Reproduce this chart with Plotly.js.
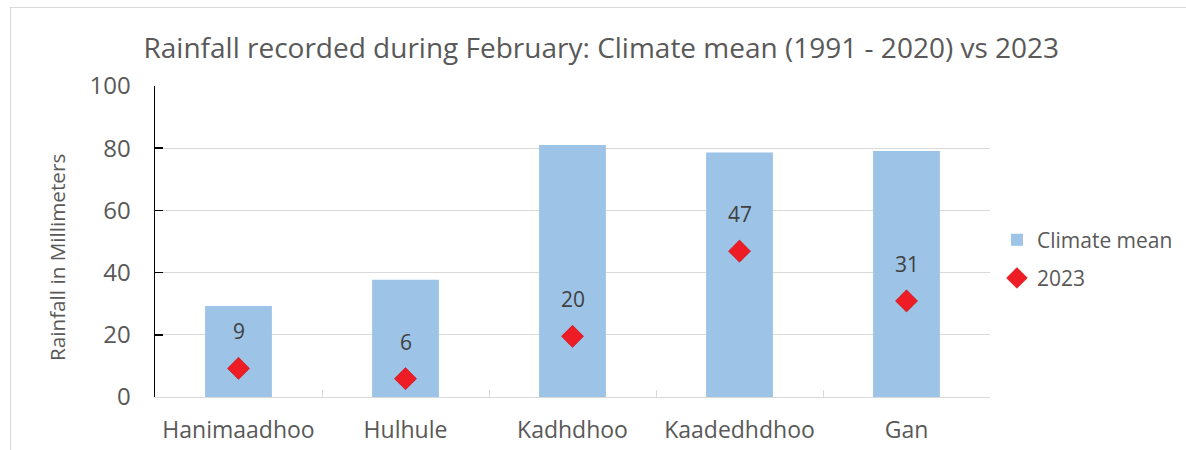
<!DOCTYPE html>
<html>
<head>
<meta charset="utf-8">
<script src="https://cdn.plot.ly/plotly-3.0.1.min.js"></script>
<style>
html,body{margin:0;padding:0;background:#fff;}
#wrap{position:relative;width:1186px;height:450px;}
#chart{width:1186px;height:450px;}
#frame{position:absolute;left:10px;top:7px;width:1176px;height:443px;border-left:1px solid #d9d9d9;border-top:1px solid #d9d9d9;pointer-events:none;}
</style>
</head>
<body>
<div id="wrap"><div id="chart"></div><div id="frame"></div></div>
<script>
const stations = ["Hanimaadhoo", "Hulhule", "Kadhdhoo", "Kaadedhdhoo", "Gan"];
const climateMean = [29.3, 37.7, 81.0, 78.6, 79.1];
const rain2023 = [9.2, 5.9, 19.5, 46.9, 30.9];
const rain2023Labels = ["9", "6", "20", "47", "31"];
const yTitle = "Rainfall in Millimeters";

const font = "'Open Sans', sans-serif";
const grey = "#595959";

const traces = [
  {
    type: "bar", name: "Climate mean", x: stations, y: climateMean, legendgroup: "a",
    marker: {color: "#9dc3e6"}, width: 0.4, hoverinfo: "x+y"
  },
  {
    type: "scatter", mode: "markers", name: "2023", x: stations, y: rain2023, legendgroup: "b",
    marker: {symbol: "diamond", color: "#ee1c25", size: 17, line: {color: "#c00000", width: 0.5}}
  }
];

const annotations = stations.map((s, i) => ({
  x: s, y: rain2023[i], text: rain2023Labels[i], showarrow: false,
  yshift: 37, font: {family: font, size: 21, color: "#404040"}
}));
annotations.push({
  xref: "paper", yref: "paper", x: -0.1174, y: 0.45, xanchor: "center", yanchor: "middle",
  text: yTitle, textangle: -90, showarrow: false,
  font: {family: font, size: 20.7, color: grey}
});

const layout = {
  width: 1186, height: 450,
  margin: {l: 155, r: 196, t: 86, b: 53, autoexpand: false},
  paper_bgcolor: "#fff", plot_bgcolor: "#fff",
  title: {text: "Rainfall recorded during February: Climate mean (1991 - 2020) vs 2023",
          font: {family: font, size: 28, color: grey}, x: 0.507, xanchor: "center", y: 0.893, yanchor: "middle"},
  showlegend: true,
  legend: {x: 0.8406, xref: "container", y: 0.4244, yref: "container", xanchor: "left", yanchor: "middle", traceorder: "grouped",
           font: {family: font, size: 21, color: grey}, tracegroupgap: 8, itemwidth: 30},
  bargap: 0.6,
  xaxis: {
    type: "category", showline: true, linecolor: "#d9d9d9", linewidth: 1,
    ticks: "inside", tickson: "boundaries", ticklen: 7, tickcolor: "#d9d9d9",
    tickfont: {family: font, size: 23, color: grey}, ticklabelstandoff: 12, showgrid: false, fixedrange: true
  },
  yaxis: {
    range: [0, 100], dtick: 20, showline: true, linecolor: "#000", linewidth: 1.5,
    ticks: "inside", ticklen: 8, tickcolor: "#000", tickwidth: 1.5,
    gridcolor: "#d9d9d9", gridwidth: 1.2, zeroline: false,
    tickfont: {family: font, size: 24, color: grey}, ticklabelstandoff: 18
  },
  annotations: annotations
};

Plotly.newPlot("chart", traces, layout, {displayModeBar: false, staticPlot: true});
</script>
</body>
</html>
